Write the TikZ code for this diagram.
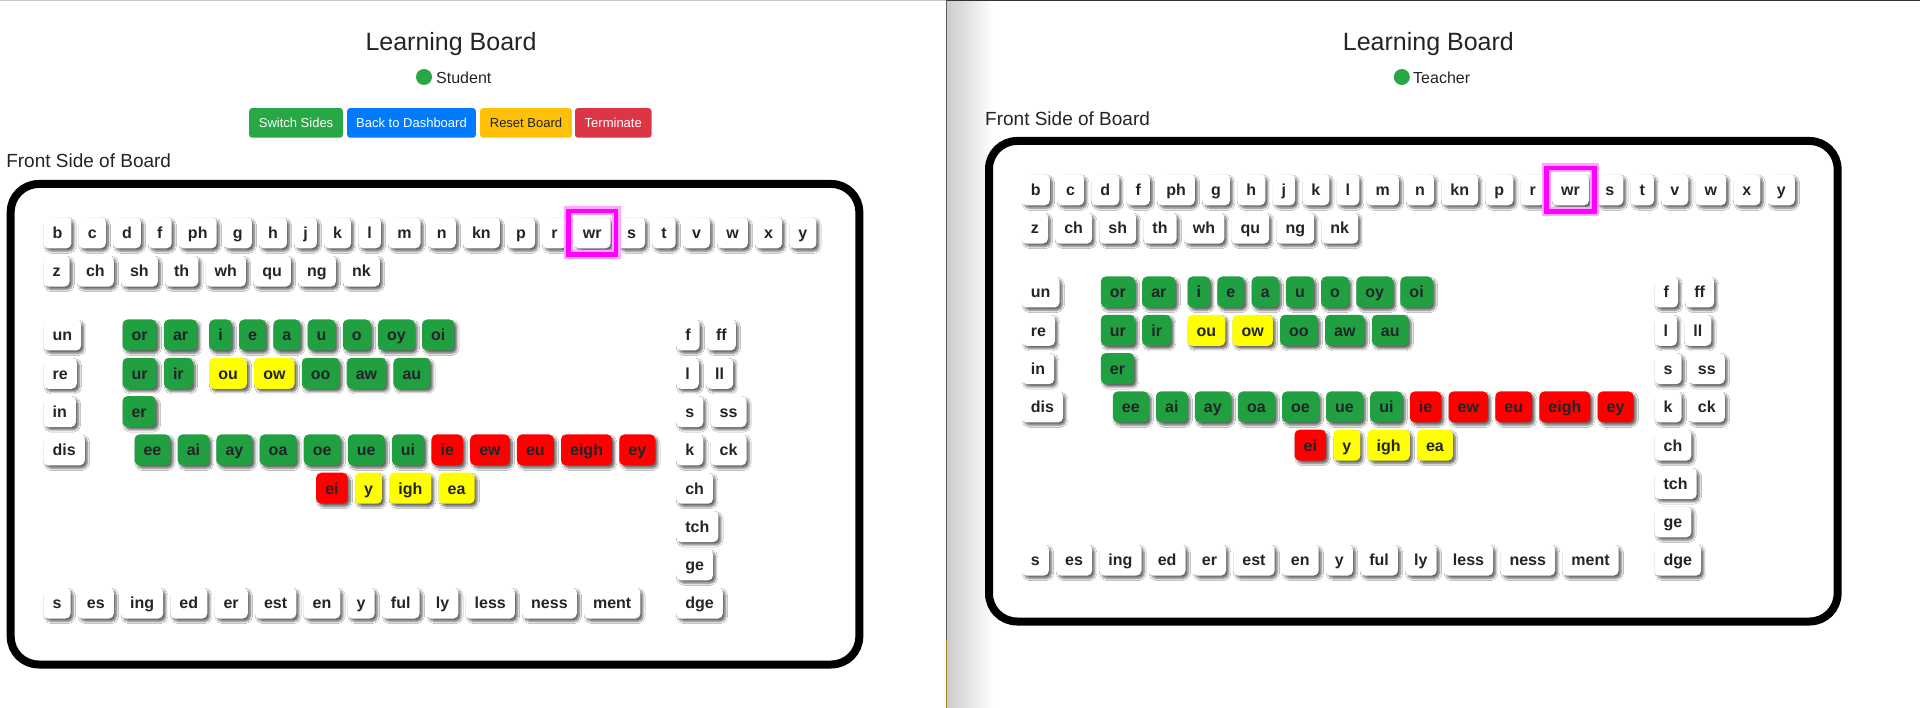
\documentclass[tikz,border=0pt]{standalone}
\usepackage{fontspec}
\setmainfont{Liberation Sans}[Ligatures=NoCommon]
\usetikzlibrary{positioning,shadows.blur}
\definecolor{txt}{HTML}{212529}
\definecolor{tgreen}{HTML}{20A040}
\definecolor{bgreen}{HTML}{28A745}
\definecolor{bblue}{HTML}{007BFF}
\definecolor{byellow}{HTML}{FFC107}
\definecolor{bred}{HTML}{DC3545}
\definecolor{tyellow}{HTML}{FFFF00}
\definecolor{tred}{HTML}{FF0000}
\definecolor{wrmag}{HTML}{FF00FF}
\definecolor{divline}{HTML}{5E5E5E}
\definecolor{divorange}{HTML}{B07A20}

\tikzset{
  tile/.style={rounded corners=5pt, minimum height=31pt, inner xsep=9.1pt, inner ysep=0pt,
    text height=11.6pt, text depth=0pt, font=\bfseries\fontsize{16}{16}\selectfont, text=txt,
    blur shadow={shadow xshift=2.5pt, shadow yshift=-2.8pt, shadow blur radius=2.2pt,
      shadow opacity=60, shadow blur steps=6}},
  tileW/.style={fill=white},
  tileG/.style={fill=tgreen},
  tileY/.style={fill=tyellow},
  tileR/.style={fill=tred},
  board/.style={draw=black, line width=8pt, rounded corners=28pt},
  wrglow/.style={draw=wrmag!35, line width=9pt},
  wrline/.style={draw=wrmag, line width=4.5pt},
  btn/.style={rounded corners=3pt, minimum height=29.7pt, inner xsep=0pt, inner ysep=0pt,
    text height=8.8pt, text depth=0pt, font=\fontsize{13}{13}\selectfont, text=white},
  titletext/.style={anchor=base, inner sep=0pt, font=\fontsize{25}{25}\selectfont, text=txt},
  roletext/.style={anchor=base west, inner sep=0pt, font=\fontsize{16}{16}\selectfont, text=txt},
  roledot/.style={circle, fill=bgreen, minimum size=16pt, inner sep=0pt},
  sidelabel/.style={anchor=base west, inner sep=0pt, font=\fontsize{19}{19}\selectfont, text=txt},
}

% #1 name prefix, #2 x of first tile's left edge, #3 y of row centre, #4 list text/style
\newcommand\tilerow[4]{%
  \foreach \txt/\sty [count=\i] in {#4} {%
    \ifnum\i=1
      \node[tile,\sty,anchor=west] (#1-\i) at (#2,#3) {\txt};
    \else
      \pgfmathtruncatemacro\prv{\i-1}%
      \node[tile,\sty,right=6.8pt of #1-\prv] (#1-\i) {\txt};
    \fi
  }%
}

% #1 prefix, #2 dx, #3 dy
\newcommand\boardcontent[3]{%
  \draw[board] (#2+10.7,#3+184) rectangle (#2+859.3,#3+664.5);
  \tilerow{#1-a}{#2+43.3}{#3+232.8}{b/tileW,c/tileW,d/tileW,f/tileW,ph/tileW,g/tileW,h/tileW,j/tileW,k/tileW,l/tileW,m/tileW,n/tileW,kn/tileW,p/tileW,r/tileW,wr/tileW,s/tileW,t/tileW,v/tileW,w/tileW,x/tileW,y/tileW}
  \draw[wrglow] ([shift={(-5.3,-6.2)}]#1-a-16.north west) rectangle ([shift={(5.3,6.2)}]#1-a-16.south east);
  \draw[wrline] ([shift={(-5.3,-6.2)}]#1-a-16.north west) rectangle ([shift={(5.3,6.2)}]#1-a-16.south east);
  \tilerow{#1-b}{#2+43.3}{#3+271.1}{z/tileW,ch/tileW,sh/tileW,th/tileW,wh/tileW,qu/tileW,ng/tileW,nk/tileW}
  \tilerow{#1-p1}{#2+43.3}{#3+335}{un/tileW}
  \tilerow{#1-p2}{#2+43.3}{#3+373.3}{re/tileW}
  \tilerow{#1-p3}{#2+43.3}{#3+411.6}{in/tileW}
  \tilerow{#1-p4}{#2+43.3}{#3+449.9}{dis/tileW}
  \tilerow{#1-v1a}{#2+122.3}{#3+335}{or/tileG,ar/tileG}
  \tilerow{#1-v1b}{#2+209}{#3+335}{i/tileG,e/tileG,a/tileG,u/tileG,o/tileG,oy/tileG,oi/tileG}
  \tilerow{#1-v2a}{#2+122.3}{#3+373.3}{ur/tileG,ir/tileG}
  \tilerow{#1-v2b}{#2+209}{#3+373.3}{ou/tileY,ow/tileY,oo/tileG,aw/tileG,au/tileG}
  \tilerow{#1-v3}{#2+122.3}{#3+411.6}{er/tileG}
  \tilerow{#1-v4}{#2+134.3}{#3+449.9}{ee/tileG,ai/tileG,ay/tileG,oa/tileG,oe/tileG,ue/tileG,ui/tileG,ie/tileR,ew/tileR,eu/tileR,eigh/tileR,ey/tileR}
  \tilerow{#1-v5}{#2+316}{#3+488.2}{ei/tileR,y/tileY,igh/tileY,ea/tileY}
  \tilerow{#1-c1}{#2+676}{#3+335}{f/tileW,ff/tileW}
  \tilerow{#1-c2}{#2+676}{#3+373.3}{l/tileW,ll/tileW}
  \tilerow{#1-c3}{#2+676}{#3+411.6}{s/tileW,ss/tileW}
  \tilerow{#1-c4}{#2+676}{#3+449.9}{k/tileW,ck/tileW}
  \tilerow{#1-c5}{#2+676}{#3+488.2}{ch/tileW}
  \tilerow{#1-c6}{#2+676}{#3+526.5}{tch/tileW}
  \tilerow{#1-c7}{#2+676}{#3+564.8}{ge/tileW}
  \tilerow{#1-c8}{#2+676}{#3+603.1}{dge/tileW}
  \tilerow{#1-s}{#2+43.3}{#3+603.1}{s/tileW,es/tileW,ing/tileW,ed/tileW,er/tileW,est/tileW,en/tileW,y/tileW,ful/tileW,ly/tileW,less/tileW,ness/tileW,ment/tileW}
}

\begin{document}
\begin{tikzpicture}[x=1pt,y=-1pt]
  \useasboundingbox (0,0) rectangle (1920,708);
  \fill[white] (0,0) rectangle (1920,708);

  % window divider and its shadow
  \shade[left color=black!20, right color=white] (947,0) rectangle (993,708);
  \draw[divline, line width=1pt] (946.5,0) -- (946.5,640);
  \draw[divorange, line width=1pt] (946.5,640) -- (946.5,708);
  \draw[black!22, line width=1pt] (0,0.5) -- (946,0.5);
  \draw[black!80, line width=1.2pt] (947,0.6) -- (1920,0.6);

  % ----- left window (student) -----
  \node[titletext] (ltitle) at (451,50.5) {Learning Board};
  \node[roledot] (ldot) at (424,77) {};
  \node[roletext] (lrole) at (436,84) {Student};
  \node[btn, fill=bgreen, minimum width=93.7pt] (bswitch) at (296.05,122.9) {Switch Sides};
  \node[btn, fill=bblue, minimum width=128.6pt] (bback) at (411.5,122.9) {Back to Dashboard};
  \node[btn, fill=byellow, minimum width=91.9pt, text=txt] (breset) at (526,122.9) {Reset Board};
  \node[btn, fill=bred, minimum width=76.5pt] (bterm) at (613.25,122.9) {Terminate};
  \node[sidelabel] (llabel) at (6.1,167.3) {Front Side of Board};
  \boardcontent{L}{0}{0}

  % ----- right window (teacher) -----
  \node[titletext] (rtitle) at (1428.4,50.5) {Learning Board};
  \node[roledot] (rdot) at (1401.8,77) {};
  \node[roletext] (rrole) at (1413,84) {Teacher};
  \node[sidelabel] (rlabel) at (985,126) {Front Side of Board};
  \boardcontent{R}{978.3}{-43}
\end{tikzpicture}
\end{document}
